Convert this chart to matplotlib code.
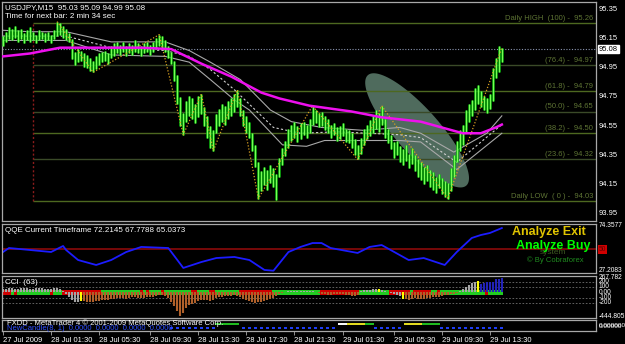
import numpy as np
import matplotlib
matplotlib.use('Agg')
import matplotlib.pyplot as plt
from matplotlib.patches import Polygon

plt.rcParams['font.family'] = ['Liberation Sans', 'DejaVu Sans']

W, H = 625, 344

# ---- price bars (M15), one low/high per bar ----
lows = [
    95.10, 95.13, 95.15, 95.14, 95.16, 95.13, 95.15, 95.12, 95.14, 95.13,
    95.14, 95.12, 95.14, 95.15, 95.13, 95.14, 95.12, 95.15, 95.17, 95.18,
    95.16, 95.14, 95.13, 95.01, 94.97, 94.99, 95.00, 94.96, 94.95, 94.93,
    94.92, 94.94, 94.97, 94.99, 95.00, 94.98, 95.02, 95.03, 95.05, 95.04,
    95.06, 95.03, 95.05, 95.04, 95.06, 95.05, 95.03, 95.05, 95.06, 95.04,
    95.06, 95.08, 95.10, 95.09, 95.06, 95.02, 94.98, 94.86, 94.70, 94.55,
    94.49, 94.58, 94.62, 94.60, 94.57, 94.61, 94.63, 94.55, 94.47, 94.40,
    94.38, 94.50, 94.55, 94.58, 94.56, 94.60, 94.62, 94.65, 94.68, 94.62,
    94.55, 94.50, 94.47, 94.38, 94.27, 94.05, 94.10, 94.14, 94.11, 94.16,
    94.13, 94.04, 94.20, 94.28, 94.34, 94.40, 94.45, 94.47, 94.44, 94.46,
    94.49, 94.47, 94.50, 94.56, 94.57, 94.54, 94.55, 94.52, 94.50, 94.47,
    94.49, 94.45, 94.46, 94.48, 94.44, 94.43, 94.40, 94.35, 94.32, 94.36,
    94.42, 94.46, 94.48, 94.50, 94.53, 94.51, 94.56, 94.47, 94.43, 94.39,
    94.33, 94.35, 94.30, 94.28, 94.31, 94.26, 94.29, 94.24, 94.20, 94.18,
    94.15, 94.17, 94.13, 94.11, 94.09, 94.12, 94.08, 94.06, 94.05, 94.10,
    94.20, 94.30, 94.38, 94.42, 94.50, 94.58, 94.62, 94.66, 94.70, 94.68,
    94.66, 94.64, 94.67, 94.72, 94.88, 94.92, 94.99]
highs = [
    95.17, 95.20, 95.23, 95.22, 95.24, 95.21, 95.22, 95.19, 95.21, 95.23,
    95.20, 95.18, 95.21, 95.20, 95.19, 95.20, 95.18, 95.21, 95.27, 95.26,
    95.24, 95.22, 95.19, 95.15, 95.06, 95.08, 95.07, 95.05, 95.04, 95.02,
    95.00, 95.03, 95.05, 95.06, 95.07, 95.05, 95.10, 95.12, 95.13, 95.11,
    95.13, 95.10, 95.12, 95.11, 95.14, 95.12, 95.10, 95.12, 95.13, 95.11,
    95.13, 95.16, 95.18, 95.17, 95.14, 95.10, 95.06, 95.00, 94.90, 94.75,
    94.64, 94.72, 94.76, 94.74, 94.70, 94.76, 94.77, 94.68, 94.62, 94.55,
    94.52, 94.63, 94.67, 94.70, 94.69, 94.72, 94.74, 94.77, 94.80, 94.74,
    94.66, 94.62, 94.58, 94.50, 94.42, 94.30, 94.24, 94.27, 94.25, 94.28,
    94.26, 94.22, 94.33, 94.40, 94.45, 94.53, 94.56, 94.58, 94.55, 94.57,
    94.58, 94.56, 94.60, 94.69, 94.66, 94.64, 94.65, 94.62, 94.60, 94.56,
    94.57, 94.54, 94.55, 94.57, 94.53, 94.52, 94.50, 94.46, 94.42, 94.47,
    94.53, 94.56, 94.59, 94.62, 94.66, 94.64, 94.69, 94.60, 94.53, 94.49,
    94.44, 94.45, 94.41, 94.39, 94.42, 94.36, 94.40, 94.35, 94.32, 94.30,
    94.27, 94.28, 94.25, 94.23, 94.20, 94.22, 94.19, 94.17, 94.16, 94.26,
    94.35, 94.45, 94.52, 94.56, 94.66, 94.70, 94.73, 94.81, 94.83, 94.79,
    94.76, 94.74, 94.77, 94.95, 95.02, 95.10, 95.09]

# slow MA (magenta) and the envelope around the fast MA
ma_bars = [0, 9, 19, 32, 46, 56, 66, 76, 86, 92, 102, 116, 126, 139, 146, 153, 159, 164, 166]
ma_vals = [95.03, 95.05, 95.09, 95.09, 95.09, 95.08, 94.98, 94.89, 94.78, 94.74,
           94.69, 94.65, 94.61, 94.58, 94.54, 94.50, 94.50, 94.54, 94.56]
env_up_bars = [0, 9, 21, 36, 54, 62, 69, 79, 89, 96, 106, 120, 132, 139, 150, 161, 166]
env_up_vals = [95.21, 95.20, 95.20, 95.13, 95.13, 95.07, 94.99, 94.87, 94.66, 94.58,
               94.54, 94.52, 94.54, 94.50, 94.37, 94.50, 94.62]
env_mid_bars = [0, 21, 36, 54, 62, 69, 77, 90, 99, 111, 132, 139, 151, 166]
env_mid_vals = [95.17, 95.17, 95.09, 95.07, 95.03, 94.94, 94.80, 94.54, 94.50, 94.51,
                94.49, 94.47, 94.30, 94.56]
env_lo_bars = [0, 21, 36, 54, 62, 69, 77, 82, 93, 101, 107, 120, 132, 139, 151, 166]
env_lo_vals = [95.14, 95.14, 95.04, 95.03, 94.99, 94.87, 94.73, 94.66, 94.42, 94.41,
               94.45, 94.45, 94.45, 94.44, 94.25, 94.50]
zz_bars = [18, 30, 52, 60, 66, 70, 78, 85, 103, 118, 126, 148, 166]
zz_vals = [95.27, 94.92, 95.18, 94.49, 94.77, 94.38, 94.80, 94.05, 94.69, 94.32, 94.69, 94.05, 95.09]

fib_levels = [95.26, 94.97, 94.79, 94.65, 94.50, 94.32, 94.03]
fib_labels = ['Daily HIGH  (100) -  95.26', '(76.4) -  94.97', '(61.8) -  94.79',
              '(50.0) -  94.65', '(38.2) -  94.50', '(23.6) -  94.32',
              'Daily LOW  ( 0 ) -  94.03']
fib_start = 10
price_ticks = [95.35, 95.15, 94.95, 94.75, 94.55, 94.35, 94.15, 93.95]
last_price = 95.08

# QQE
qqe_bars = [0, 2, 16, 20, 21, 25, 31, 36, 41, 46, 55, 60, 66, 71, 77, 82, 87, 90, 95, 99,
            103, 106, 109, 118, 122, 126, 129, 135, 140, 147, 151, 156, 159, 162, 166]
qqe_vals = [47.1, 51.3, 47.1, 53.4, 49.2, 38.7, 33.5, 38.7, 47.1, 52.4, 51.3, 30.4, 36.6,
            40.8, 41.9, 38.7, 28.3, 27.5, 47.1, 52.4, 56.5, 56.5, 51.3, 46.1, 52.4, 54.4,
            49.2, 38.7, 40.8, 33.5, 47.1, 61.8, 64.9, 67.0, 72.2]

# CCI(63) histogram
cci = [60, 70, 75, 80, 70, 65, 75, 85, 80, 70, 65, 75, 80, 85, 70, 60, 70, 75, 80, 60,
       20, -40, -90, -140, -180, -190, -160,
       -170, -180, -175, -190, -170, -160, -150, -140, -150, -130, -120, -110, -100, -110,
       -120, -100, -90, -95, -100, -110, -100, -95, -90, -80, -70, -60, -55, -70, -110,
       -180, -260, -350, -445,
       -380, -300, -240, -220, -200, -170, -150, -140, -150, -160, -140, -110, -90, -80,
       -75, -70, -65, -60, -70, -90, -120, -150, -170, -190, -200, -190, -180, -170, -150,
       -130, -100, -70, -40, -20,
       10, 20, 25, 30, 20, 15, 25, 30, 20, 15, 10,
       -20, -30, -40, -60, -50, -40, -30, -35, -40, -50, -60, -70, -65, -50,
       20, 35, 45, 50, 55, 60, 70,
       40, 20, 10, -10, -30, -50, -70, -120,
       -130, -140, -120, -110, -130, -135, -120, -110, -100, -90, -80, -90, -70, -60, -50,
       -40, -30, -15,
       30, 60, 100, 140, 170, 190, 210,
       150, 170, 190, 195, 200, 250, 255, 267]
cci_col_runs = [('g', 26), ('y', 1), ('b', 67), ('g', 11), ('b', 14), ('g', 6), ('y', 1),
                ('g', 7), ('y', 1), ('b', 18), ('g', 6), ('y', 1), ('u', 8)]
band_runs = [('r', 3), ('g', 1), ('r', 1), ('g', 11), ('r', 1), ('g', 3), ('r', 13), ('g', 13),
             ('r', 1), ('g', 1), ('r', 1), ('g', 4), ('r', 1), ('g', 9), ('r', 2), ('g', 4),
             ('r', 2), ('g', 8), ('r', 11), ('g', 16), ('r', 13), ('g', 10), ('r', 7), ('g', 1),
             ('r', 6), ('g', 1), ('g', 1), ('r', 1), ('g', 15), ('r', 1), ('g', 5)]
dot_runs = [('.', 56), ('b', 15), ('g', 8), ('b', 33), ('w', 3), ('y', 6), ('g', 3), ('b', 10),
            ('y', 6), ('g', 6), ('b', 21)]

time_bars = [0, 16, 32, 49, 65, 81, 97, 113, 130, 146, 162]
time_labels = ['27 Jul 2009', '28 Jul 01:30', '28 Jul 05:30', '28 Jul 09:30', '28 Jul 13:30',
               '28 Jul 17:30', '28 Jul 21:30', '29 Jul 01:30', '29 Jul 05:30', '29 Jul 09:30',
               '29 Jul 13:30']


def expand(runs):
    out = []
    for c, n in runs:
        out += [c] * n
    return out


fig = plt.figure(figsize=(W / 100, H / 100), dpi=100, facecolor='black')
FRAME = '#a8a8a8'


def panel(top, bottom):
    ax = fig.add_axes([2 / W, 1 - bottom / H, 594 / W, (bottom - top) / H])
    ax.set_facecolor('black')
    ax.set_xticks([])
    ax.set_yticks([])
    for s in ax.spines.values():
        s.set_color(FRAME)
        s.set_linewidth(0.9)
    ax.set_xlim(-1 / 3, 593 / 3 - 1 / 3)
    return ax


def rlabel(ax, y, s, size=5.5, **kw):
    kw.setdefault('color', 'white')
    ax.text(1.005, y, s, transform=ax.get_yaxis_transform(), fontsize=size,
            va='center', ha='left', clip_on=False, **kw)


def ftext(x, y, s, **kw):
    kw.setdefault('color', 'white')
    kw.setdefault('fontsize', 5.8)
    fig.text(x / W, 1 - y / H, s, va='center', **kw)


idx = np.arange(len(lows))

# ---------------- main price panel ----------------
ax = panel(2, 221)
ax.set_ylim(93.895, 95.405)

# highlighted ellipse, drawn in screen space so it keeps its shape
tr = ax.transData
p1 = tr.transform((122.3, 94.88))
p2 = tr.transform((153.3, 94.16))
c = (p1 + p2) / 2
a = np.linalg.norm(p2 - p1) / 2 + 4
u = (p2 - p1) / np.linalg.norm(p2 - p1)
v = np.array([-u[1], u[0]])
t = np.linspace(0, 2 * np.pi, 120)
pts = c + np.outer(a * np.cos(t), u) + np.outer(22 * np.sin(t), v)
ax.add_patch(Polygon(tr.inverted().transform(pts), closed=True, facecolor='#4f6b5d',
                     edgecolor='none', zorder=1))

for k, (lv, lab) in enumerate(zip(fib_levels, fib_labels)):
    col = '#4d6820' if k % 2 == 0 else '#3a4a28'
    ax.hlines(lv, fib_start, 197.6, color=col, lw=1.0, zorder=2)
    ax.text(196.3, lv + 0.008, lab, color='#5e7434', fontsize=5.5, ha='right', va='bottom', zorder=2)
ax.vlines(fib_start, fib_levels[-1], fib_levels[0], color='#8b1c1c', lw=1.0,
          linestyle=(0, (1.5, 1.5)), zorder=2)
ax.axhline(last_price, color='#8a94b0', lw=0.8, linestyle=(0, (1, 1.5)), zorder=2)

ax.plot(env_up_bars, env_up_vals, color='#a8a8a8', lw=0.8, zorder=3)
ax.plot(env_mid_bars, env_mid_vals, color='#d0d0d0', lw=0.8, linestyle=(0, (2, 2)), zorder=3)
ax.plot(env_lo_bars, env_lo_vals, color='#a8a8a8', lw=0.8, zorder=3)

ax.vlines(idx, lows, highs, color='#12c012', lw=1.8, zorder=4)
ax.vlines(idx, lows, highs, color='#7dff5a', lw=0.7, zorder=5)

ax.plot(zz_bars, zz_vals, color='#d8a020', lw=0.9, linestyle=(0, (1, 1.5)), zorder=5)
ax.plot(ma_bars, ma_vals, color='#ee10ee', lw=1.8, zorder=6)

for p in price_ticks:
    rlabel(ax, p, '%.2f' % p)
rlabel(ax, last_price, '%.2f' % last_price, color='black',
       bbox=dict(facecolor='white', edgecolor='white', pad=0.6))

ftext(5, 8, 'USDJPY,M15  95.03 95.09 94.99 95.08')
ftext(5, 16, 'Time for next bar: 2 min 34 sec')

# ---------------- QQE panel ----------------
aq = panel(224, 273)
aq.set_ylim(25.1, 76.45)
aq.axhline(50, color='#8b0a0a', lw=1.2)
aq.plot(qqe_bars, qqe_vals, color='#1c1cff', lw=1.3)
rlabel(aq, 74.3577, '74.3577', size=4.8)
rlabel(aq, 27.2083, '27.2083', size=4.8)
rlabel(aq, 50, '50', size=4.8, color='#600000',
       bbox=dict(facecolor='#d00000', edgecolor='none', pad=0.8))
ftext(5, 231, 'QQE Current Timeframe 72.2145 67.7788 65.0373')
ftext(549, 232, 'Analyze Exit', color='#e0c400', fontsize=9, fontweight='bold', ha='center')
ftext(553, 252, 'system', color='#3d5a20', fontsize=6, ha='center')
ftext(553, 246, 'Analyze Buy', color='#00ff00', fontsize=9, fontweight='bold', ha='center')
ftext(555, 260, '\u00a9 By Cobraforex', color='#1f8a1f', fontsize=5.5, ha='center')

# ---------------- CCI panel ----------------
ac = panel(276, 318)
ac.set_ylim(-481, 304)
for lv in (200, 100, -100, -200):
    ac.axhline(lv, color='#707070', lw=0.6, linestyle=(0, (2, 2)))
cmap = {'g': '#a4a4a4', 'b': '#b0602a', 'y': '#ffff00', 'u': '#2222b8'}
ac.vlines(idx, 0, cci, colors=[cmap[k] for k in expand(cci_col_runs)], lw=1.5)
bmap = {'r': '#d00000', 'g': '#22cc22'}
ac.bar(idx, 90, bottom=-45, width=1.0, color=[bmap[k] for k in expand(band_runs)], lw=0)
for lv, lab in [(267.782, '267.782'), (200, '200'), (100, '100'), (0, '0.00'),
                (-100, '-100'), (-200, '-200'), (-444.805, '-444.805')]:
    rlabel(ac, lv, lab, size=4.8)
ftext(5, 283, 'CCI  (63)')

# ---------------- bottom indicator + time axis ----------------
ab = panel(320, 331)
ab.set_ylim(0, 1)
dots = expand(dot_runs)
dmap = {'b': ('#2040ff', 0.25), 'g': ('#20c020', 0.6), 'y': ('#e8e020', 0.6), 'w': ('#ffffff', 0.6)}
for i, k in enumerate(dots):
    if k == '.' or (k == 'b' and i % 2):
        continue
    colr, lev = dmap[k]
    ab.plot([i - 0.5, i + 0.5], [lev, lev], color=colr, lw=1.4, solid_capstyle='butt')
ab.text(0.008, 0.72, 'FXDD - MetaTrader 4 \u00a9 2001-2009 MetaQuotes Software Corp.',
        transform=ab.transAxes, color='white', fontsize=5.5, va='center')
ab.text(0.008, 0.2, 'NewCandle(8, 1)  0.0000  0.0000  0.0000  0.0000',
        transform=ab.transAxes, color='#3050ff', fontsize=5.5, va='center')
rlabel(ab, 0.5, '0.000000', size=4.6)
rlabel(ab, 0.45, '0.00000', size=4.6)
ab.set_xticks(time_bars)
ab.set_xticklabels(time_labels, ha='left', fontsize=5.5, color='white')
ab.tick_params(axis='x', length=3, width=0.6, color=FRAME, pad=1)

fig.savefig('out.png', dpi=100, facecolor='black')
